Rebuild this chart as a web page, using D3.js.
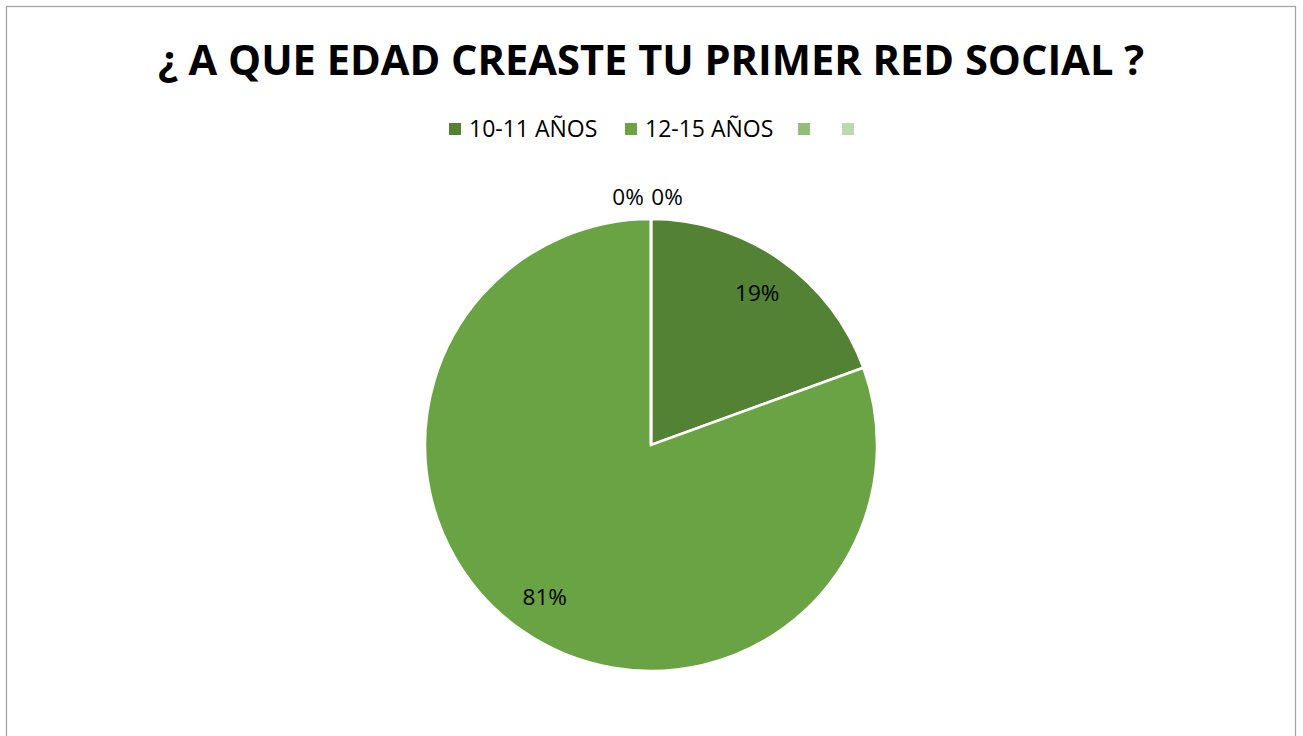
<!DOCTYPE html>
<html>
<head>
<meta charset="utf-8">
<title>¿ A QUE EDAD CREASTE TU PRIMER RED SOCIAL ?</title>
<script src="https://cdn.jsdelivr.net/npm/d3@7"></script>
<style>
  body { margin: 0; background: #fff; }
  svg { display: block; font-family: "Open Sans", "Noto Sans", sans-serif; }
</style>
</head>
<body>
<div id="grafica"></div>
<script>
// data
var categories = ["10-11 AÑOS", "12-15 AÑOS", "", ""];
var values = [7, 29, 0, 0];
var colors = ["#548235", "#6aa343", "#93be77", "#bdd7ae"];
var titulo = "¿ A QUE EDAD CREASTE TU PRIMER RED SOCIAL ?";

var width = 1303, height = 736;
var cx = 651, cy = 445, radius = 226;

var svg = d3.select("#grafica").append("svg")
    .attr("width", width)
    .attr("height", height);

// chart frame
svg.append("rect")
    .attr("x", 6.5).attr("y", 6.5)
    .attr("width", 1289).attr("height", 740)
    .attr("fill", "#fff")
    .attr("stroke", "#a6a6a6")
    .attr("stroke-width", 1.3);

svg.append("text")
    .attr("x", 651).attr("y", 75)
    .attr("text-anchor", "middle")
    .attr("font-size", 41.6)
    .attr("font-weight", "bold")
    .attr("fill", "#000")
    .text(titulo);

// legend
var legendX = [449, 625, 798, 842];
var legend = svg.selectAll(".leg")
    .data(categories)
    .enter().append("g")
    .attr("class", "leg")
    .attr("transform", function(d, i) { return "translate(" + legendX[i] + ",123)"; });

legend.append("rect")
    .attr("width", 12).attr("height", 12)
    .attr("fill", function(d, i) { return colors[i]; });

legend.append("text")
    .attr("x", 20).attr("y", 14)
    .attr("font-size", 23)
    .attr("fill", "#000")
    .text(function(d) { return d; });

// pie
var pie = d3.pie().sort(null).value(function(d) { return d; });
var arcs = pie(values);
var arc = d3.arc().innerRadius(0).outerRadius(radius);
var labelArc = d3.arc().innerRadius(radius * 0.82).outerRadius(radius * 0.82);
var total = d3.sum(values);

var g = svg.append("g").attr("transform", "translate(" + cx + "," + cy + ")");

g.selectAll("path")
    .data(arcs)
    .enter().append("path")
    .attr("d", arc)
    .attr("fill", function(d, i) { return colors[i]; })
    .attr("stroke", "#fff")
    .attr("stroke-width", 2.5)
    .attr("stroke-linejoin", "miter");

var fmt = d3.format(".0%");
g.selectAll(".lbl")
    .data(arcs)
    .enter().append("text")
    .attr("class", "lbl")
    .attr("text-anchor", "middle")
    .attr("font-size", 22.5)
    .attr("fill", "#000")
    .attr("transform", function(d, i) {
      if (d.value === 0) {
        // empty slices: labels sit just outside the top of the pie
        var p = d3.arc().innerRadius(radius + 22).outerRadius(radius + 22).centroid(d);
        var shift = i === 2 ? -23 : 16;
        return "translate(" + (p[0] + shift) + "," + p[1] + ")";
      }
      var c = labelArc.centroid(d);
      return "translate(" + c[0] + "," + c[1] + ")";
    })
    .attr("dy", "0.35em")
    .text(function(d) { return fmt(d.value / total); });
</script>
</body>
</html>
